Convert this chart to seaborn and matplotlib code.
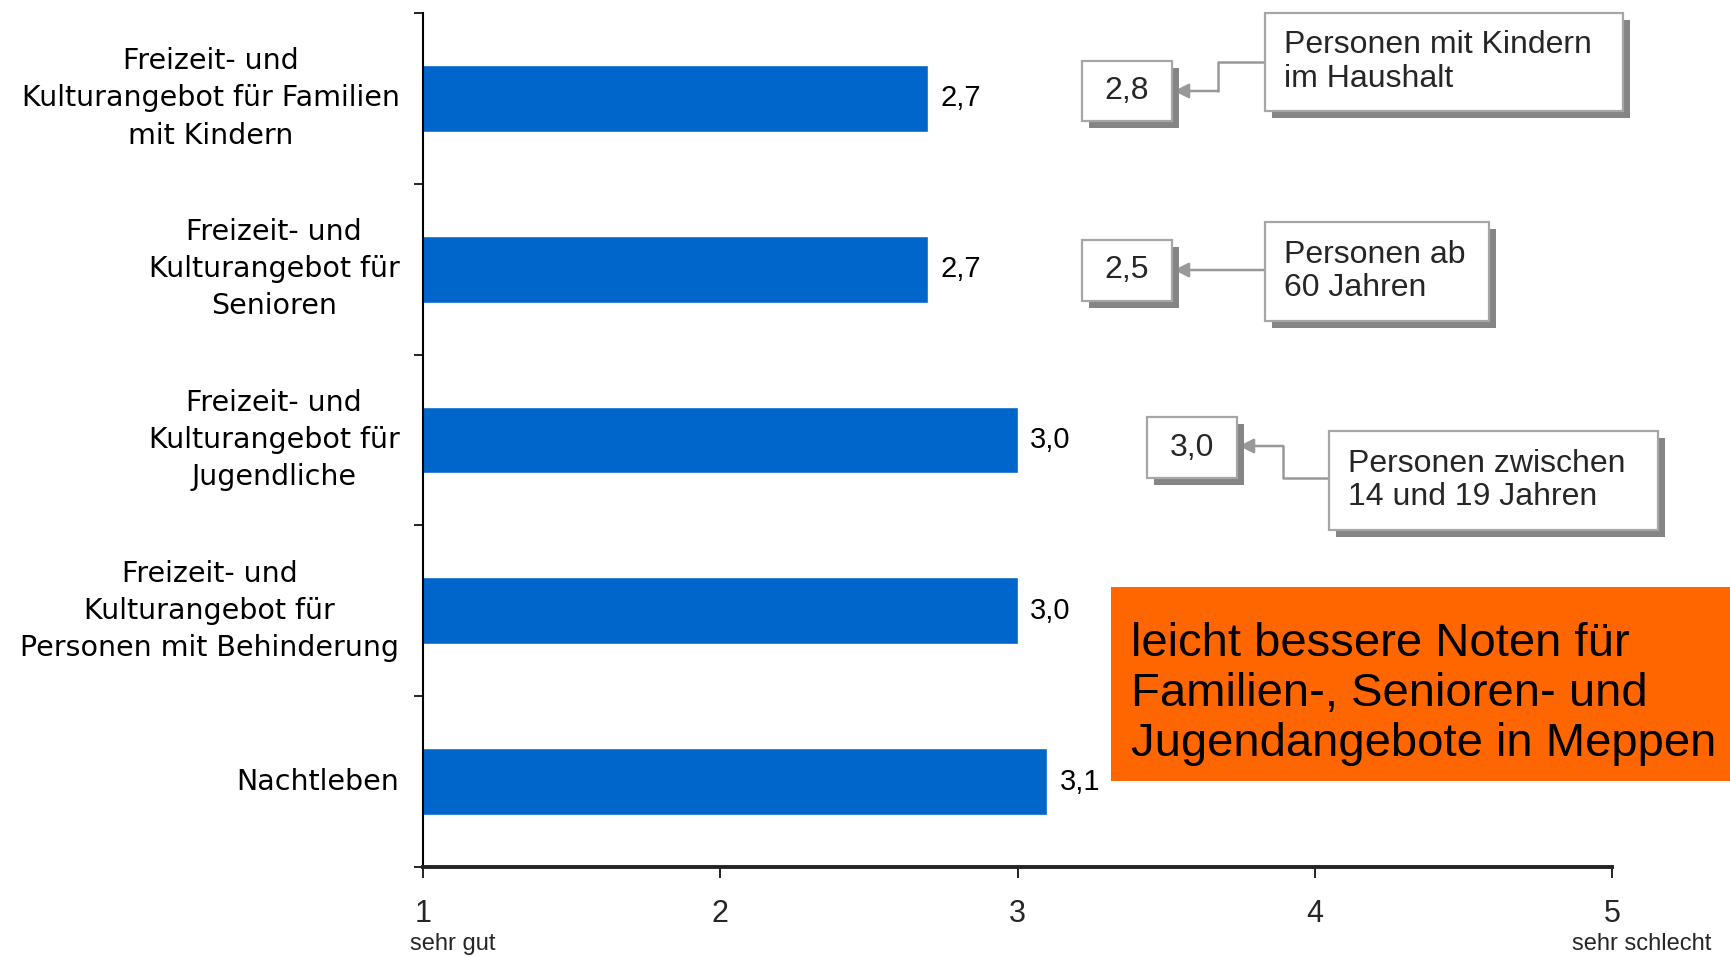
import matplotlib
matplotlib.use("Agg")
import matplotlib.pyplot as plt
import seaborn as sns
import pandas as pd
from matplotlib.patches import Rectangle, FancyArrowPatch
from matplotlib.lines import Line2D

# ---------------- data ----------------
categories = [
    "Freizeit- und\nKulturangebot für Familien\nmit Kindern",
    "Freizeit- und\nKulturangebot für\nSenioren",
    "Freizeit- und\nKulturangebot für\nJugendliche",
    "Freizeit- und\nKulturangebot für\nPersonen mit Behinderung",
    "Nachtleben",
]
values = [2.7, 2.7, 3.0, 3.0, 3.1]
compare_values = [2.8, 2.5, 3.0]
compare_groups = [
    "Personen mit Kindern\nim Haushalt",
    "Personen ab\n60 Jahren",
    "Personen zwischen\n14 und 19 Jahren",
]
x_ticks = [1, 2, 3, 4, 5]
x_tick_labels = ["1", "2", "3", "4", "5"]
scale_ends = ["sehr gut", "sehr schlecht"]
note_text = "leicht bessere Noten für\nFamilien-, Senioren- und\nJugendangebote in Meppen"


def fmt(v):
    return f"{v:.1f}".replace(".", ",")


sns.set_theme(style="white")
plt.rcParams["font.family"] = ["Liberation Sans", "DejaVu Sans"]

W, H = 1730, 957
fig = plt.figure(figsize=(W / 100, H / 100), dpi=100)
fig.patch.set_facecolor("white")
ax = fig.add_axes([423 / W, 1 - 867 / H, (1612 - 423) / W, (867 - 13) / H])

df = pd.DataFrame({"cat": categories, "val": values})
sns.barplot(data=df, x="val", y="cat", orient="h", color="#0066CC",
            saturation=1, width=0.39, ax=ax)

ax.set_xlim(1, 5)
ax.set_ylim(len(categories) - 0.5, -0.5)
ax.set_xlabel("")
ax.set_ylabel("")
ax.grid(False)
sns.despine(ax=ax)
ax.spines["left"].set_color("black")
ax.spines["left"].set_linewidth(1.5)
ax.spines["bottom"].set_color("#222222")
ax.spines["bottom"].set_linewidth(2.8)

ax.set_xticks(x_ticks)
ax.set_xticklabels(x_tick_labels)
ax.set_yticks([i - 0.5 for i in range(len(categories) + 1)], minor=True)
ax.tick_params(axis="x", which="major", bottom=True, direction="out",
               length=8, width=1.2, color="black", pad=15, labelsize=22)
ax.tick_params(axis="y", which="major", left=True, length=0, pad=17)
ax.tick_params(axis="y", which="minor", left=True, direction="out",
               length=6.5, width=1.2, color="black")

for lbl in ax.get_yticklabels():
    lbl.set_multialignment("center")
    lbl.set_verticalalignment("center")
    lbl.set_linespacing(1.42)
    lbl.set_fontfamily("DejaVu Sans")
    lbl.set_fontsize(20.5)
    lbl.set_color("black")

# value labels
ax.bar_label(ax.containers[0], labels=[fmt(v) for v in values],
             padding=9, fontsize=21, color="black")

# scale end labels
tr = ax.get_xaxis_transform()
ax.text(x_ticks[0] + 0.1, -0.09, scale_ends[0], transform=tr,
        ha="center", va="center", fontsize=17, clip_on=False)
ax.text(x_ticks[-1] + 0.1, -0.09, scale_ends[1], transform=tr,
        ha="center", va="center", fontsize=17, clip_on=False)


# ---------------- annotation boxes ----------------
def fx(x):
    return x / W


def fy(y):
    return 1 - y / H


def box(x0, y0, x1, y1, face="white", edge="#A6A6A6", shadow=True):
    if shadow:
        fig.add_artist(Rectangle((fx(x0 + 7), fy(y1 + 7)), (x1 - x0) / W,
                                 (y1 - y0) / H, transform=fig.transFigure,
                                 facecolor="#858585", edgecolor="none",
                                 zorder=3))
    fig.add_artist(Rectangle((fx(x0), fy(y1)), (x1 - x0) / W, (y1 - y0) / H,
                             transform=fig.transFigure, facecolor=face,
                             edgecolor=edge, lw=1.6 if edge != "none" else 0,
                             zorder=4))


def connector(points):
    xs = [fx(p[0]) for p in points[:-1]]
    ys = [fy(p[1]) for p in points[:-1]]
    if len(xs) > 1:
        fig.add_artist(Line2D(xs, ys, transform=fig.transFigure,
                              color="#999999", lw=1.8, zorder=2))
    a = points[-2]
    b = points[-1]
    fig.add_artist(FancyArrowPatch((fx(a[0]), fy(a[1])), (fx(b[0]), fy(b[1])),
                                   transform=fig.transFigure,
                                   arrowstyle="-|>", mutation_scale=22,
                                   color="#999999", lw=1.8,
                                   shrinkA=0, shrinkB=0, zorder=2))


value_boxes = [(1082, 61, 1172, 121), (1082, 240, 1172, 301),
               (1147, 417, 1237, 478)]
group_boxes = [(1265, 13, 1623, 111), (1265, 222, 1489, 321),
               (1329, 431, 1658, 530)]
connectors = [
    [(1265, 62), (1218, 62), (1218, 91), (1174, 91)],
    [(1265, 270), (1174, 270)],
    [(1329, 478), (1283, 478), (1283, 446), (1239, 446)],
]

for v, g, vb, gb, cp in zip(compare_values, compare_groups, value_boxes,
                            group_boxes, connectors):
    connector(cp)
    box(*vb)
    fig.text(fx((vb[0] + vb[2]) / 2), fy((vb[1] + vb[3]) / 2), fmt(v),
             ha="center", va="center", fontsize=23, zorder=6)
    box(*gb)
    fig.text(fx(gb[0] + 19), fy((gb[1] + gb[3]) / 2), g, ha="left",
             va="center", fontsize=23, linespacing=1.15, zorder=6)

# orange note box
box(1111, 587, 1730, 781, face="#FF6600", edge="none", shadow=False)
fig.text(fx(1131), fy(694), note_text, ha="left", va="center",
         fontsize=34, linespacing=1.18, color="black", zorder=6)

fig.savefig("out.png", dpi=100, facecolor="white")
